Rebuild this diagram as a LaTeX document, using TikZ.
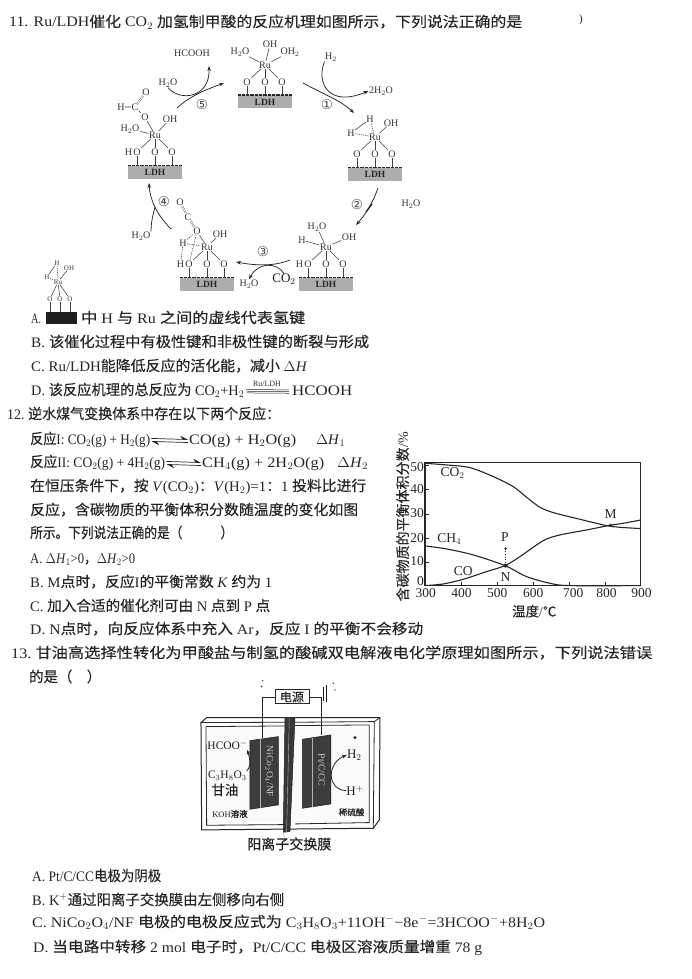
\documentclass[tikz,border=0pt]{standalone}
\usepackage{fontspec}
\setmainfont{Liberation Serif}
\newfontfamily\cjk[FakeBold=.25]{Noto Sans CJK SC}
\newfontfamily\dejavu{DejaVu Sans}
\usetikzlibrary{arrows.meta,calc}
\newcommand\C[1]{{\cjk #1}}
\newcommand\dH{\(\Delta\)\textit{H}}
\tikzset{
 txt/.style={anchor=base west,inner sep=0pt,text=black!85,font=\fontsize{14.5}{17}\selectfont},
 chem/.style={inner sep=0.4pt,text=black!80,font=\fontsize{10}{11}\selectfont},
 bondline/.style={line width=.55pt,draw=black!75},
 dbl/.style={draw=black!75,line width=.35pt,double,double distance=.9pt},
 dbond/.style={bondline,dashed,dash pattern=on 1.2pt off 1pt},
 ldh/.style={fill=black!32,inner sep=0pt,minimum width=54pt,minimum height=13pt,text=black!85,font=\fontsize{9.5}{10}\bfseries\selectfont},
 surf/.style={draw=black!85,line width=1.6pt,dash pattern=on .8pt off .5pt},
 arr/.style={draw=black!85,line width=.75pt,-{Stealth[length=5pt,width=3.6pt]}},
 num/.style={inner sep=0pt,text=black!70,font=\dejavu\fontsize{13.5}{14}\selectfont},
 axlab/.style={inner sep=0pt,text=black!85,font=\fontsize{13.5}{14}\selectfont},
 curve/.style={draw=black!85,line width=.9pt},
 eqln/.style={draw=black!85,line width=.7pt},
 eqhead/.style={eqln,-{Stealth[harpoon,length=7pt,width=7pt]}},
 cellt/.style={inner sep=0pt,text=black!88,font=\fontsize{13}{14}\selectfont},
 cellline/.style={draw=black!85,line width=.8pt},
 electrode/.style={draw=black!90,fill=black!76,line width=.5pt}
}
% name, x, y(baseline), width, text
\newcommand\LL[5]{\node[txt] (#1) at (#2,#3) {\resizebox{#4pt}{\height}{#5}};}
% name, centre x, top y of the LDH block
\newcommand\LDHunit[3]{
 \node[ldh] (#1box) at (#2,#3+7) {LDH};
 \draw[surf] (#1box.north west) -- (#1box.north east);
 \node[chem] (#1o1) at (#2-18,#3-13) {O};
 \node[chem] (#1o2) at (#2,#3-13) {O};
 \node[chem] (#1o3) at (#2+17,#3-13) {O};
 \node[chem] (#1ru) at (#2,#3-30) {Ru};
 \foreach \k in {1,2,3}{
  \draw[bondline] (#1o\k.south) -- (#1o\k.south |- #1box.north);
  \draw[bondline] (#1ru) -- (#1o\k);
 }
}
\begin{document}
\begin{tikzpicture}[x=1pt,y=-1pt]
\useasboundingbox[fill=white] (0,0) rectangle (692,979);

%%% Question 11 title
\LL{q11}{9}{27}{513}{11. Ru/LDH\C{催化} CO$_2$ \C{加氢制甲酸的反应机理如图所示，下列说法正确的是}}
\node[txt] (q11p) at (579,23) {\fontsize{11}{12}\selectfont )};

%%% Catalytic cycle
\LDHunit{a}{265}{95}
\node[chem] (aw) at (240,52) {H$_2$O};
\node[chem] (ah) at (270,44) {OH};
\node[chem] (ar) at (290,52) {OH$_2$};
\draw[bondline] (aru) -- (aw) (aru) -- (ah) (aru) -- (ar);

\LDHunit{b}{375}{167}
\node[chem] (bh1) at (370,119) {H};
\node[chem] (bh2) at (351,133) {H};
\node[chem] (bh) at (391,123) {OH};
\draw[bondline] (bh1) -- (bh2) (bru) -- (bh);
\draw[dbond] (bru) -- (bh1) (bru) -- (bh2);

\LDHunit{c}{326}{277}
\node[chem] (cw) at (317,227) {H$_2$O};
\node[chem] (ch1) at (302,240) {H};
\node[chem] (ch) at (349,237) {OH};
\node[chem,anchor=east] (ch2) at (co1.west) {H};
\draw[bondline] (cru) -- (cw) (cru) -- (ch1) (cru) -- (ch);

\LDHunit{d}{207}{277}
\node[chem] (dh) at (220,234) {OH};
\node[chem] (dh1) at (183,243) {H};
\node[chem] (do) at (197,231) {O};
\node[chem] (dc) at (188,217) {C};
\node[chem] (do2) at (180,202) {O};
\node[chem,anchor=east] (dh2) at (do1.west) {H};
\draw[bondline] (dru) -- (dh) (do) -- (dru);
\draw[dbl] (do) -- (dc);
\draw[dbl] (dc) -- (do2);
\draw[dbond] (dh1) -- (dru) (dh1) -- (do) (dh1) -- (dh2) (do) -- (do1);

\LDHunit{e}{155}{165}
\node[chem] (eh) at (170,119) {OH};
\node[chem] (ew) at (130,129) {H$_2$O};
\node[chem] (eo) at (145,117) {O};
\node[chem] (ec) at (135,107) {C};
\node[chem] (eh1) at (121,107) {H};
\node[chem] (eo2) at (146,92) {O};
\node[chem,anchor=east] (eh2) at (eo1.west) {H};
\draw[bondline] (eru) -- (eh) (eru) -- (ew) (eru) -- (eo) (eo) -- (ec) (ec) -- (eh1);
\draw[dbl] (ec) -- (eo2);

% step 1
\node[chem] (h2in) at (331,57) {H$_2$};
\node[chem] (w2out) at (381,91) {2H$_2$O};
\node[num] (n1) at (327,105) {①};
\coordinate (s1a) at (303,83); \coordinate (s1b) at (354,113);
\draw[arr] (s1a) .. controls (325,95) and (340,100) .. (s1b);
\draw[arr] (h2in.south west) .. controls (316,82) and (328,108) .. (w2out.west);
% step 2
\node[num] (n2) at (357,205) {②};
\node[chem] (w3) at (411,204) {H$_2$O};
\coordinate (s2a) at (378,188); \coordinate (s2b) at (356,225);
\draw[arr] (s2a) .. controls (373,202) and (366,214) .. (s2b);
\coordinate (s2c) at (366,212); \coordinate (s2d) at (372,204);
\draw[draw=black!85,line width=1.3pt] (s2c) -- (s2d);
% step 3
\node[num] (n3) at (263,252) {③};
\node[cellt] (co2in) at (284,279) {CO$_2$};
\node[chem] (w4) at (249,284) {H$_2$O};
\coordinate (s3a) at (290,260); \coordinate (s3b) at (236,262);
\draw[arr] (s3a) .. controls (275,266) and (258,266) .. (s3b);
\draw[arr] (co2in.north) .. controls (277,262) and (258,262) .. (w4.north);
% step 4
\node[num] (n4) at (164,202) {④};
\node[chem] (w5) at (141,236) {H$_2$O};
\coordinate (s4a) at (171,229); \coordinate (s4b) at (149,183);
\coordinate (s4c) at (155,207);
\draw[arr] (s4a) .. controls (157,215) and (150,200) .. (s4b);
\draw[draw=black!85,line width=.75pt] (w5.north east) .. controls (151,222) and (153,215) .. (s4c);
% step 5
\node[num] (n5) at (202,105) {⑤};
\node[chem] (acid) at (192,53) {HCOOH};
\node[chem] (w6) at (168,83) {H$_2$O};
\coordinate (s5a) at (177,108); \coordinate (s5b) at (224,83);
\coordinate (s5c) at (209,66);
\draw[arr] (s5a) .. controls (190,96) and (205,90) .. (s5b);
\draw[arr] (w6.south) .. controls (180,102) and (210,98) .. (s5c);

%%% structure drawn with option A
\node[fill=black!88,inner sep=0pt,minimum width=31pt,minimum height=12pt] (sbox) at (61.5,318) {};
\tikzset{chemS/.style={inner sep=.2pt,text=black!80,font=\fontsize{7}{8}\selectfont}}
\node[chemS] (sh) at (57,263) {H};
\node[chemS] (soh) at (69,268) {OH};
\node[chemS] (sh2) at (47,277) {H};
\node[chemS] (sru) at (58,282) {Ru};
\node[chemS] (so1) at (50,299) {O};
\node[chemS] (so2) at (60,299) {O};
\node[chemS] (so3) at (70,299) {O};
\draw[bondline] (sh) -- (sh2) (sru) -- (soh);
\draw[dbond] (sh) -- (sru) (sh2) -- (sru);
\foreach \k in {1,2,3}{
 \draw[bondline] (sru) -- (so\k);
 \draw[bondline] (so\k.south) -- (so\k.south |- sbox.north);
}

%%% Options of 11
\LL{q11a}{31}{323}{10}{A.}
\LL{q11at}{81}{323}{224}{\C{中} H \C{与} Ru \C{之间的虚线代表氢键}}
\LL{q11b}{31}{347}{338}{B.\ \C{该催化过程中有极性键和非极性键的断裂与形成}}
\LL{q11c}{31}{371}{276}{C.\ Ru/LDH\C{能降低反应的活化能，减小} \dH}
\LL{q11d}{31}{395}{213}{D.\ \C{该反应机理的总反应为} CO$_2$+H$_2$}
\node[inner sep=0pt,anchor=base,text=black!82,font=\fontsize{8}{9}\selectfont] (ruldh) at (267,386) {Ru/LDH};
\LL{q11d2}{292}{395}{60}{HCOOH}
\foreach \d in {0,1.7,3.4}{\draw[eqln,line width=.5pt] ($(q11d.east)+(2,-\d+3)$) -- ($(q11d2.west)+(-3,-\d+3)$);}

%%% Question 12
\LL{q12}{7}{419}{273}{12.\ \C{逆水煤气变换体系中存在以下两个反应：}}
\LL{r1l}{30}{444}{120}{\C{反应}I: CO$_2$(g) + H$_2$(g)}
\LL{r1r}{189}{444}{107}{CO(g) + H$_2$O(g)}
\LL{r1h}{316}{444}{29}{\dH$_1$}
\draw[eqhead] ($(r1l.east)+(1,-1)$) -- ($(r1r.west)+(-1,-1)$);
\draw[eqhead] ($(r1r.west)+(-1,2)$) -- ($(r1l.east)+(1,2)$);
\LL{r2l}{30}{467}{135}{\C{反应}II: CO$_2$(g) + 4H$_2$(g)}
\LL{r2r}{202}{467}{122}{CH$_4$(g) + 2H$_2$O(g)}
\LL{r2h}{337}{467}{31}{\dH$_2$}
\draw[eqhead] ($(r2l.east)+(1,-1)$) -- ($(r2r.west)+(-1,-1)$);
\draw[eqhead] ($(r2r.west)+(-1,2)$) -- ($(r2l.east)+(1,2)$);
\LL{q12a}{30}{491}{336}{\C{在恒压条件下，按} \textit{V}(CO$_2$)\C{：}\textit{V}(H$_2$)=1\C{：}1 \C{投料比进行}}
\LL{q12b}{30}{515}{328}{\C{反应，含碳物质的平衡体积分数随温度的变化如图}}
\LL{q12c}{30}{538}{203}{\C{所示。下列说法正确的是（}\hspace{3em}\C{）}}
\LL{q12oa}{30}{563}{105}{A.\ \dH$_1$>0\C{，}\dH$_2$>0}
\LL{q12ob}{30}{587}{242}{B.\ M\C{点时，反应}I\C{的平衡常数} \textit{K} \C{约为} 1}
\LL{q12oc}{30}{611}{240}{C.\ \C{加入合适的催化剂可由} N \C{点到} P \C{点}}
\LL{q12od}{30}{634}{393}{D.\ N\C{点时，向反应体系中充入} Ar\C{，反应} I \C{的平衡不会移动}}

%%% Chart
\begin{scope}[x=.3333pt,y=-.3333pt,shift={(1140,1260)}]
\coordinate (f1) at (135,127); \coordinate (f2) at (783,497);
\draw[curve,line width=1.1pt] (f1) rectangle (f2);
\foreach \v/\yy in {10/426,20/355,30/283,40/207,50/137}{
 \draw[curve,line width=.6pt] (135,\yy) -- (147,\yy);
}
\foreach \xx in {243,351,459,567,675}{\draw[curve,line width=.6pt] (\xx,497) -- (\xx,487);}
\draw[curve,line width=1.1pt] plot[smooth] coordinates {(135,130) (200,135) (270,143) (340,170) (400,200) (440,232) (480,262) (520,278) (600,298) (680,317) (720,322) (783,326)};
\draw[curve,line width=1.1pt] plot[smooth] coordinates {(135,497) (190,492) (250,478) (320,455) (375,437) (420,410) (490,362) (540,345) (620,330) (690,316) (730,310) (783,300)};
\draw[curve,line width=1.1pt] plot[smooth] coordinates {(135,378) (200,387) (280,405) (375,437) (440,470) (510,490) (570,497) (783,497)};
\foreach \n/\t/\yy in {y50/50/140,y40/40/207,y30/30/280,y20/20/353,y10/10/423,y0/0/482}{
 \node[axlab,anchor=east] (\n) at (132,\yy) {\t};
}
\foreach \n/\t/\xx in {x3/300/137,x4/400/245,x5/500/352,x6/600/460,x7/700/580,x8/800/680,x9/900/785}{
 \node[axlab] (\n) at (\xx,520) {\t};
}
\node[axlab] (lco2) at (218,160) {CO$_2$};
\node[axlab] (lch4) at (208,358) {CH$_4$};
\node[axlab] (lco) at (250,452) {CO};
\node[axlab] (lp) at (375,352) {P};
\node[axlab] (ln) at (377,472) {N};
\node[axlab] (lm) at (692,283) {M};
\node[axlab] (lt) at (463,574) {\C{温度}/\C{℃}};
\node[axlab,rotate=90,font=\fontsize{14}{15}\selectfont] (ly) at (68,290) {\C{含碳物质的平衡体积分数}/\%};
\fill[black!85] (377,437) circle (6);
\fill[black!85] (692,316) circle (5);
\fill[black!85] (377,386) circle (4);
\coordinate (pdot) at (377,386); \coordinate (ndot) at (377,437);
\draw[curve,line width=.7pt,dotted] (pdot) -- (ndot);
\end{scope}

%%% Question 13
\LL{q13a}{11}{658}{641}{13.\ \C{甘油高选择性转化为甲酸盐与制氢的酸碱双电解液电化学原理如图所示，下列说法错误}}
\LL{q13b}{29}{682}{72}{\C{的是（}\hspace{1em}\C{）}}

%%% Cell
\begin{scope}[x=.3333pt,y=-.3333pt,shift={(510,2010)}]
\fill[black!2] (110,170) rectangle (600,460);
\draw[cellline,line width=1pt] (93,158) -- (110,143) -- (630,143) -- (628,450) -- (610,475) -- (95,480) -- cycle;
\draw[cellline] (93,158) -- (345,157) (375,157) -- (613,155) -- (630,143) (613,155) -- (610,475);
\draw[cellline] (108,170) -- (345,168) (375,167) -- (598,165) -- (598,458) -- (375,462) (345,464) -- (110,466) -- (108,170);
\draw[draw=black!90,fill=black!78,line width=.5pt] (345,145) -- (375,145) -- (360,485) -- (340,487) -- cycle;
\draw[draw=black!30,line width=.4pt] (358,145) -- (350,487);
\node[draw=black!85,line width=.9pt,inner sep=0pt,minimum width=34pt,minimum height=14pt,fill=white,font=\fontsize{12}{13}\selectfont,text=black!85] (pow) at (366,81) {\C{电源}};
\coordinate (lw) at (277,205); \coordinate (rw) at (455,195);
\draw[cellline] (pow.west) -| (lw);
\draw[cellline] (pow.east) -| (rw);
\draw[electrode] (240,212) -- (325,200) -- (325,405) -- (240,418) -- cycle;
\draw[draw=black!30,line width=.5pt] (272,208) -- (272,413);
\draw[electrode] (397,208) -- (483,195) -- (483,402) -- (397,415) -- cycle;
\draw[draw=black!30,line width=.5pt] (428,204) -- (428,410);
\node[rotate=-90,inner sep=0pt,text=black!20,font=\fontsize{9.5}{10}\selectfont] (el) at (298,305) {NiCo$_2$O$_4$/NF};
\node[rotate=-90,inner sep=0pt,text=black!20,font=\fontsize{9.5}{10}\selectfont] (er) at (455,300) {Pt/C/CC};
\node[cellt,font=\fontsize{11.5}{12}\selectfont] (hcoo) at (172,225) {HCOO$^-$};
\node[cellt,font=\fontsize{11.5}{12}\selectfont] (gly) at (172,318) {C$_3$H$_8$O$_3$};
\node[cellt,font=\fontsize{13.5}{14}\selectfont] (gy) at (165,360) {\C{甘油}};
\node[cellt,font=\fontsize{8.5}{9}\selectfont] (koh) at (180,432) {KOH\C{溶液}};
\node[cellt] (hh) at (553,255) {H$_2$};
\node[cellt] (hp) at (555,362) {H$^+$};
\node[cellt,font=\fontsize{8.5}{9}\selectfont] (dil) at (545,427) {\C{稀硫酸}};
\node[cellt,font=\fontsize{14}{15}\selectfont] (mem) at (358,522) {\C{阳离子交换膜}};
\draw[arr,line width=.8pt] (hp.west) .. controls (470,360) and (470,280) .. (hh.west);
\draw[arr,line width=.8pt] (gly.north east) .. controls (245,285) and (240,270) .. (hcoo.south east);
\draw[black!50,line width=.3pt] (mem.north) ++(-15,0) -- (340,487);
\fill[black!80] (555,203) circle (5);
\fill[black!70] (278,32) circle (2.5) (275,50) circle (3) (490,40) circle (2.5) (495,60) circle (2.5);
\draw[black!90,line width=1.2pt] (460,50) -- (460,92) (470,45) -- (470,95);
\end{scope}

%%% Options of 13
\LL{q13oa}{32}{881}{129}{A.\ Pt/C/CC\C{电极为阴极}}
\LL{q13ob}{32}{905}{252}{B.\ K$^+$\C{通过阳离子交换膜由左侧移向右侧}}
\LL{q13oc}{32}{927}{513}{C.\ NiCo$_2$O$_4$/NF \C{电极的电极反应式为} C$_3$H$_8$O$_3$+11OH$^-$−8e$^-$=3HCOO$^-$+8H$_2$O}
\LL{q13od}{33}{952}{449}{D.\ \C{当电路中转移} 2 mol \C{电子时，}Pt/C/CC \C{电极区溶液质量增重} 78 g}
\end{tikzpicture}
\end{document}
